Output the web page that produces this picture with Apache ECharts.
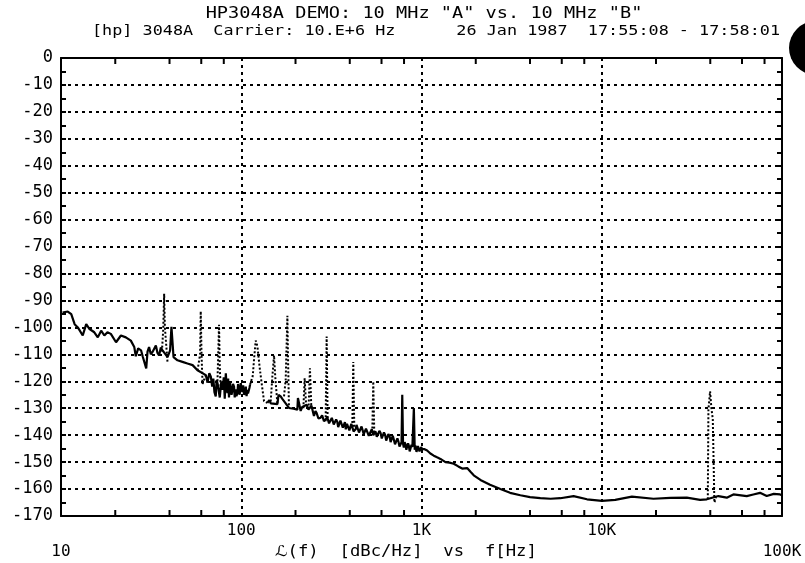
<!DOCTYPE html>
<html><head><meta charset="utf-8">
<script src="https://cdn.jsdelivr.net/npm/echarts/dist/echarts.min.js"></script>
<style>html,body{margin:0;padding:0;background:#fff}#c{width:805px;height:563px}</style>
</head><body><div id="c"></div>
<script>
// ---- texts ----
const titleLine1 = 'HP3048A DEMO: 10 MHz "A" vs. 10 MHz "B"';
const titleLine2Left = '[hp] 3048A  Carrier: 10.E+6 Hz';
const titleLine2Right = '26 Jan 1987  17:55:08 - 17:58:01';
const xAxisTitle = 'ℒ(f)  [dBc/Hz]  vs  f[Hz]';
const xTickLabels = {10: '10', 100: '100', 1000: '1K', 10000: '10K', 100000: '100K'};
const xEndLabels = [10, 100000];
const xMinorTicks = [20, 40, 60, 80, 200, 400, 600, 800, 2000, 4000, 6000, 8000, 20000, 40000, 60000, 80000];
const yMin = -170, yMax = 0, yStep = 10;

// ---- solid trace (frequency Hz, dBc/Hz); null = pen up ----
const traceFreq = [10.2, 10.9, 11.4, 11.9, 12.4, 13.2, 13.8, 14.4, 15.3, 16.0, 16.7, 17.4, 18.1, 18.9, 20.2, 21.5, 22.9, 24.4,
  25.5, 26.0, 26.8, 27.8, 28.4, 28.9, 29.7, 30.2, 30.8, 31.5, 32.2, 33.6, 34.3, 35.0, 35.8, 36.6, 39.0, 40.3, 41.0, 42.1,
  44.3, 47.2, 50.3, 53.7, 57.2,
  63.6, 65.0, 66.5, 67.8, 69.0, 70.0, 71.0, 72.2, 73.0, 74.0, 76.0, 77.5, 78.7, 80.0, 81.0, 82.1, 83.0, 83.8, 84.6, 85.5,
  86.5, 87.5, 88.3, 89.0, 90.0, 91.2, 92.0, 93.0, 94.0, 95.2, 96.0, 97.0, 98.0, 99.4, 100.5, 101.5, 102.5, 103.6, 105.0,
  106.0, 107.0, 108.2, 109.0, 110.0, 111.0, 111.9, null,
  139.7, 143.0, 146.0, 158.7, 161.0, 165.5, 169.0, 172.7,
  184.0, 188.0, 195.0, 204.8, 206.3, 213.6, 218.0, 222.0, 230.7, 236.0, 245.0, 253.2, 258.0, 262.0, 268.0, 275.7, 281.0, 287.6,
  300.0, 307.0, 313.0, 318.0, 322.0, 326.0, 330.0, 336.0, 341.0, 345.0, 350.0, 355.0, 360.0, 366.0, 371.0, 376.0, 380.0,
  386.0, 392.0, 398.0, 404.0, 408.0, 412.0, 420.0, 431.0, 436.0, 440.0, 450.0, 459.0, 465.0, 470.0, 478.0, 485.0, 492.0,
  500.0, 510.0, 520.0, 530.0, 540.0, 556.0, 565.0, 575.0, 584.0, 593.0, 602.0, 610.0, 619.0, 628.0, 637.0, 646.0, 655.0,
  665.0, 674.0, 684.0, 693.0, 702.0, 713.0, 725.0, 735.0, 745.0, 755.0, 765.0, 775.0, 782.0, 790.0, 798.0, 806.0, 815.0,
  824.0, 833.0, 842.0, 850.0, 860.0, 870.0, 880.0, 890.0, 897.0, 907.0, 917.0, 924.0, 930.0, 938.0, 947.0, 955.0, 965.0,
  975.0, 985.0, 995.0, 1009, 1040, 1075, 1120, 1170, 1220, 1274, 1358, 1430, 1510, 1600, 1681, 1792, 1870,
  1949, 2123, 2400, 2739, 3100, 3536, 4000, 4564, 5200, 5891, 6982, 8279, 10025, 11880, 14700, 19364, 23962, 29648, 35135, 38268, 44374, 49393,
  53728, 63752, 69343, 75527, 82263, 90000, 97480, 100000];
const traceDb = [-94.5, -94.1, -95.1, -98.8, -100, -103, -98.8, -100.6, -101.8, -103.7, -101.2, -103, -101.8, -102.4, -105.5, -103, -103.7, -104.9,
  -107.3, -110.7, -107.8, -108.5, -110.8, -111, -115.2, -109, -107.3, -110, -109.1, -106.7, -109.5, -110.4, -107.5, -108.5, -111, -108.5, -99.8, -111,
  -112.2, -112.8, -113.4, -114, -115.9,
  -117.7, -120.5, -117, -118.3, -122, -119, -124, -125.6, -119.5, -121, -126, -120, -123.2, -118.5, -126.5, -117, -122, -124.4, -119, -126,
  -120, -119.5, -125, -124, -121, -122, -126, -123, -125.5, -124.4, -121, -121.5, -125, -120.7, -123, -124, -121.5, -125, -124,
  -122, -125.5, -123.2, -124.5, -125, -122.5, -121.3, null,
  -128, -127, -128.2, -128.5, -125, -125.6, -126.5, -126,
  -129.9, -129.9, -130.2, -130.5, -126.2, -131, -129.5, -129, -128.7, -130.5, -129, -132.9, -131, -131.8, -133.8, -133.5, -132.6, -134.8,
  -133.4, -135.6, -135.4, -133.6, -133.8, -136, -136.2, -134.2, -135, -137, -136.8, -134.6, -134.9, -137.2, -136.5, -135.2, -137.8,
  -135.8, -136, -138.2, -137.6, -135.8, -136.4, -138.6, -137.8, -136.2, -136.6, -139, -138.8, -136.8, -137.2, -139.6, -139.4, -137.6,
  -138.2, -140.2, -139.8, -137.8, -140, -138.6, -140.6, -140.2, -138.4, -139.2, -141.2, -141, -139, -139.8, -142, -141.4, -139.6,
  -140.4, -142.6, -142.2, -140.2, -141.6, -143.4, -143, -141.2, -142.4, -144.2, -143.8, -142.6, -125, -143.2, -144.6, -142.6, -143.4,
  -145.4, -145, -143, -143.8, -146, -145.6, -143.6, -144.4, -145, -129.9, -145.4, -143.8, -144.2, -146.2, -145.6, -144, -144.6,
  -146, -145.8, -144.4, -145.2, -145.2, -145.7, -146.8, -147.6, -148.2, -148.8, -150, -150.2, -150.6, -151.6, -152.4, -152.2, -153.6,
  -154.9, -156.6, -158.4, -160, -161.4, -162.3, -163, -163.4, -163.6, -163.4, -162.6, -163.8, -164.4, -164, -162.8, -163.6, -163.3, -163.2, -164, -163.8, -162.6, -163.2,
  -162, -162.6, -162, -161.4, -162.6, -161.8, -162, -162.3];

// ---- dotted spur segments; null separates segments ----
const spurFreq = [36.3, 36.9, 37.35, 37.7, 39.0, null,
  57.2, 59.1, 59.6, 60.2, 61.0, 63.6, null,
  73.8, 75.3, 76.0, 77.0, null,
  111.9, 113.9, 115.8, 117.7, 120.3, 121.9, 123.4, 126.6, 129.9, 133.8, 139.7, null,
  145.7, 148.9, 152.0, 154.3, 158.7, null,
  172.7, 176.4, 180.3, 181.6, 184.0, null,
  221.1, 224.8, 228.6, null,
  236.6, 240.5, 244.8, null,
  293.9, 297.7, 301.5, null,
  413.1, 418.4, 423.8, null,
  533.3, 540.1, 547.0, null,
  38760, 39060, 39910, 40580, 41310, 42160, 43090];
const spurDb = [-109, -101, -87.5, -100, -113, null,
  -116, -110, -94, -110, -121, -117.7, null,
  -120, -99, -115, -123, null,
  -121.3, -121.3, -118, -112, -104.9, -106, -108, -115, -121, -127.4, -128, null,
  -127.5, -118, -110.4, -118, -128.5, null,
  -125.6, -119.5, -95.7, -110, -129.9, null,
  -130, -118.9, -128, null,
  -129, -115.2, -130, null,
  -134.8, -103.4, -134, null,
  -137, -112.8, -137.5, null,
  -139, -120.1, -139.3, null,
  -163.8, -130.5, -123.7, -130, -134, -165, -163];

const toPairs = (xs, ys) => xs.map((x, i) => (x === null || ys[i] === null) ? [NaN, '-'] : [x, ys[i]]);

const MONO = '"DejaVu Sans Mono", "DejaVu Sans", monospace';
const INK = '#000';

const chart = echarts.init(document.getElementById('c'), null, {renderer: 'canvas'});
const axisCommonY = {
  type: 'value', min: yMin, max: yMax, interval: yStep,
  axisLine: {show: true, lineStyle: {color: INK, width: 2}},
  axisTick: {show: true, inside: true, length: 5, lineStyle: {color: INK, width: 2}},
  minorTick: {show: true, splitNumber: 2, length: 5, lineStyle: {color: INK, width: 2}}
};
const axisCommonX = {
  type: 'log', logBase: 10, min: 10, max: 100000, splitNumber: 4,
  axisLine: {show: true, onZero: false, lineStyle: {color: INK, width: 2}},
  axisTick: {show: false}
};

chart.setOption({
  animation: false,
  backgroundColor: '#fff',
  grid: {left: 61, right: 23, top: 58, bottom: 47, containLabel: false, outerBoundsMode: 'none'},
  xAxis: [
    Object.assign({}, axisCommonX, {
      position: 'bottom',
      axisLabel: {
        color: INK, fontFamily: MONO, fontSize: 16, margin: 4, lineHeight: 21,
        showMinLabel: true, showMaxLabel: true,
        formatter: v => {
          const key = Math.round(v);
          const t = xTickLabels[key] || '';
          return xEndLabels.indexOf(key) >= 0 ? '\n' + t : t;
        }
      },
      splitLine: {show: true, lineStyle: {color: INK, width: 2, type: [3, 4]}}
    }),
    Object.assign({}, axisCommonX, {
      position: 'top', axisLabel: {show: false}, splitLine: {show: false}
    })
  ],
  yAxis: [
    Object.assign({}, axisCommonY, {
      position: 'left',
      axisLabel: {color: INK, fontFamily: MONO, fontSize: 17, margin: 8},
      splitLine: {show: true, lineStyle: {color: INK, width: 2, type: [3, 4]}}
    }),
    Object.assign({}, axisCommonY, {
      position: 'right', axisLabel: {show: false}, splitLine: {show: false}
    })
  ],
  series: [
    {
      type: 'line', xAxisIndex: 0, yAxisIndex: 0,
      data: toPairs(traceFreq, traceDb),
      showSymbol: false, symbol: 'none', connectNulls: false,
      lineStyle: {color: INK, width: 2.2}, z: 4
    },
    {
      type: 'line', xAxisIndex: 0, yAxisIndex: 0,
      data: toPairs(spurFreq, spurDb),
      showSymbol: false, symbol: 'none', connectNulls: false,
      lineStyle: {color: INK, width: 2, type: [2, 2]}, z: 3
    },
    {
      type: 'custom', xAxisIndex: 0, yAxisIndex: 0,
      data: xMinorTicks.map(f => [f, yMin]),
      encode: {x: 0, y: 1},
      silent: true, z: 5,
      renderItem: (params, api) => {
        const b = api.coord([api.value(0), yMin]);
        const t = api.coord([api.value(0), yMax]);
        const st = {stroke: INK, lineWidth: 2};
        return {type: 'group', children: [
          {type: 'line', shape: {x1: b[0], y1: b[1], x2: b[0], y2: b[1] - 6}, style: st},
          {type: 'line', shape: {x1: t[0], y1: t[1], x2: t[0], y2: t[1] + 6}, style: st}
        ]};
      }
    }
  ],
  graphic: [
    {type: 'text', x: 424, y: 14, scaleX: 1.24, style: {text: titleLine1, font: '15px ' + MONO, fill: INK, align: 'center', verticalAlign: 'middle'}},
    {type: 'text', x: 92, y: 31, scaleX: 1.2, style: {text: titleLine2Left, font: '14px ' + MONO, fill: INK, align: 'left', verticalAlign: 'middle'}},
    {type: 'text', x: 780, y: 31, scaleX: 1.2, style: {text: titleLine2Right, font: '14px ' + MONO, fill: INK, align: 'right', verticalAlign: 'middle'}},
    {type: 'text', x: 406, y: 552, scaleX: 1.15, style: {text: xAxisTitle, font: '15px ' + MONO, fill: INK, align: 'center', verticalAlign: 'middle'}},
    {type: 'circle', shape: {cx: 816, cy: 48, r: 27}, style: {fill: INK}, silent: true}
  ]
});
</script>
</body></html>
